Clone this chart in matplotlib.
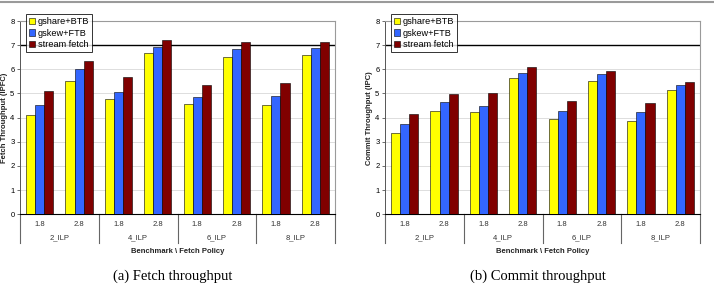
import numpy as np
import matplotlib.pyplot as plt
from matplotlib.patches import Patch
from matplotlib.lines import Line2D
import matplotlib.transforms as mtransforms

plt.rcParams["font.family"] = ["Liberation Sans", "DejaVu Sans"]

# categories
policies = ["1.8", "2.8"] * 4
benchmarks = ["2_ILP", "4_ILP", "6_ILP", "8_ILP"]
series = ["gshare+BTB", "gskew+FTB", "stream fetch"]
colors = ["#ffff00", "#3366ff", "#800000"]

# (a) fetch throughput
fetch_gshare = [4.12, 5.50, 4.77, 6.69, 4.56, 6.53, 4.51, 6.60]
fetch_gskew = [4.52, 6.00, 5.07, 6.91, 4.87, 6.83, 4.88, 6.87]
fetch_stream = [5.09, 6.36, 5.70, 7.22, 5.37, 7.14, 5.45, 7.12]

# (b) commit throughput
commit_gshare = [3.36, 4.29, 4.23, 5.66, 3.95, 5.50, 3.85, 5.16]
commit_gskew = [3.72, 4.66, 4.50, 5.83, 4.26, 5.79, 4.22, 5.34]
commit_stream = [4.14, 4.97, 5.01, 6.08, 4.68, 5.93, 4.61, 5.48]

W, H = 714, 286
fig = plt.figure(figsize=(W / 100, H / 100), dpi=100)

# grey rule at the top of the figure
fig.add_artist(Line2D([0, 1], [1 - 2 / H, 1 - 2 / H], color="#9a9a9a", linewidth=1.5))


def panel(x0, x1, vals, ylabel, caption, cap_x):
    ax = fig.add_axes([x0 / W, 1 - 214.3 / H, (x1 - x0) / W, (214.3 - 21) / H])
    n = len(policies)
    x = np.arange(n)
    bw = 0.23
    for i, (v, c) in enumerate(zip(vals, colors)):
        ax.bar(x + (i - 1) * bw, v, bw, color=c, edgecolor="black", linewidth=0.4, zorder=3)
    ax.set_xlim(-0.5, n - 0.5)
    ax.set_ylim(0, 8)
    ax.set_yticks(range(9))
    ax.tick_params(axis="y", labelsize=5.5, length=2.5, width=0.6, pad=1.5, color="#555555")
    ax.set_xticks([])
    for yv in range(1, 8):
        ax.axhline(yv, color="#d8d8d8", linewidth=0.6, zorder=1)
    ax.axhline(7, color="black", linewidth=1.0, zorder=2)
    for s in ["top", "right"]:
        ax.spines[s].set_color("#9a9a9a")
        ax.spines[s].set_linewidth(0.8)
    ax.spines["left"].set_color("#555555")
    ax.spines["left"].set_linewidth(0.7)
    ax.spines["bottom"].set_color("black")
    ax.spines["bottom"].set_linewidth(0.8)

    trans = mtransforms.blended_transform_factory(ax.transData, ax.transAxes)
    for i, p in enumerate(policies):
        ax.text(i, -0.053, p, transform=trans, ha="center", va="center", fontsize=5.5, color="#333333")
    for j, b in enumerate(benchmarks):
        ax.text(2 * j + 0.5, -0.123, b, transform=trans, ha="center", va="center", fontsize=5.5, color="#333333")
    for k in range(len(benchmarks) + 1):
        ax.add_line(Line2D([2 * k - 0.5] * 2, [0, -0.15], transform=trans, color="#666666",
                           linewidth=0.8, clip_on=False))
    ax.text(0.5, -0.19, "Benchmark \\ Fetch Policy", transform=ax.transAxes, ha="center",
            va="center", fontsize=5.5, fontweight="bold", color="#222222")
    ax.text(-0.048, 0.5, ylabel, transform=ax.transAxes, rotation=90, ha="center",
            va="center", fontsize=5.5, fontweight="bold", color="#222222")

    handles = [Patch(facecolor=c, edgecolor="black", linewidth=0.4, label=s) for s, c in zip(series, colors)]
    leg = ax.legend(handles=handles, loc="upper left", bbox_to_anchor=(0.02, 1.035), fontsize=6.6,
                    frameon=True, fancybox=False, handlelength=0.7, handleheight=0.7,
                    handletextpad=0.25, borderpad=0.3, labelspacing=0.3, borderaxespad=0)
    leg.get_frame().set_edgecolor("black")
    leg.get_frame().set_linewidth(0.7)
    leg.set_zorder(5)

    fig.text(cap_x / W, 1 - 276 / H, caption, ha="center", va="center", fontsize=10.5,
             family="Liberation Serif")
    return ax


panel(20, 335, [fetch_gshare, fetch_gskew, fetch_stream], "Fetch Throughput (IPFC)",
      "(a) Fetch throughput", 173)
panel(385, 700, [commit_gshare, commit_gskew, commit_stream], "Commit Throughput (IPC)",
      "(b) Commit throughput", 538)

fig.savefig("out.png", dpi=100)
